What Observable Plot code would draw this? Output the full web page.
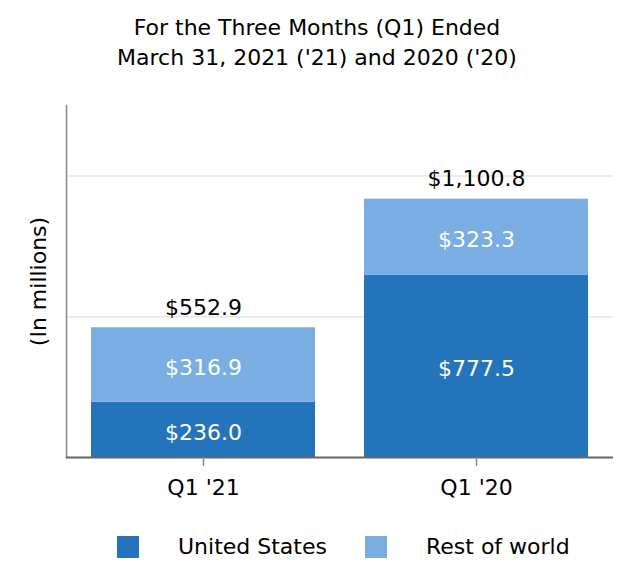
<!DOCTYPE html>
<html><head><meta charset="utf-8">
<script src="https://cdn.jsdelivr.net/npm/d3@7"></script>
<script src="https://cdn.jsdelivr.net/npm/@observablehq/plot@0.6"></script>
<style>
body{margin:0;background:#fff;font-family:"DejaVu Sans",sans-serif;width:634px;}
#title{text-align:center;font-size:22px;line-height:30px;padding-top:13px;height:59px;color:#000;}
#legend{display:flex;align-items:center;padding-left:117px;padding-top:22px;font-size:22px;color:#000;}
#legend .sw{width:22px;height:22px;}
#legend .lb{margin-left:39px;margin-right:38px;}
</style></head><body>
<div id="title">For the Three Months (Q1) Ended<br>March 31, 2021 ('21) and 2020 ('20)</div>
<div id="chart"></div>
<div id="legend"></div>
<script>
const quarters = ["Q1 '21", "Q1 '20"];
const seriesNames = ["United States", "Rest of world"];
const unitedStates = [236.0, 777.5];
const restOfWorld = [316.9, 323.3];
const totals = [552.9, 1100.8];
const colors = ["#2474bb", "#7aade2"];
const gridValues = [600, 1200];
const yMax = 1500;

const rows = [];
quarters.forEach((q, i) => {
  rows.push({quarter: q, series: seriesNames[0], value: unitedStates[i]});
  rows.push({quarter: q, series: seriesNames[1], value: restOfWorld[i]});
});
const totalRows = quarters.map((q, i) => ({quarter: q, value: totals[i]}));
const fmt = v => "$" + d3.format(",.1f")(v);

const chart = Plot.plot({
  width: 634, height: 440,
  marginTop: 33, marginBottom: 55, marginLeft: 66, marginRight: 21,
  style: {fontFamily: "DejaVu Sans", fontSize: "22px", color: "#000", background: "#fff"},
  x: {domain: quarters, paddingInner: 0.18, paddingOuter: 0.09, label: null},
  y: {domain: [0, yMax], label: null},
  color: {domain: seriesNames, range: colors},
  marks: [
    Plot.ruleY(gridValues, {stroke: "#e6e6e6", strokeWidth: 1.5}),
    Plot.barY(rows, Plot.stackY({x: "quarter", y: "value", fill: "series"})),
    Plot.text(rows, Plot.stackY({x: "quarter", y: "value", text: d => fmt(d.value), fill: "white", fontSize: 22, dy: 3})),
    Plot.text(totalRows, {x: "quarter", y: "value", text: d => fmt(d.value), dy: -20, fill: "black", fontSize: 22}),
    Plot.frame({anchor: "left", stroke: "#888", strokeWidth: 1.5}),
    Plot.ruleY([0], {stroke: "#666", strokeWidth: 2}),
    Plot.axisX({tickSize: 9, tickPadding: 13, stroke: "#888", strokeWidth: 1.5, fontSize: 22, label: null}),
    Plot.axisY({ticks: [], label: "(In millions)", labelArrow: "none", labelAnchor: "center", labelOffset: 36, fontSize: 22})
  ]
});
document.getElementById("chart").appendChild(chart);

const legend = document.getElementById("legend");
seriesNames.forEach((s, i) => {
  const sw = document.createElement("div"); sw.className = "sw"; sw.style.background = colors[i];
  const lb = document.createElement("div"); lb.className = "lb"; lb.textContent = s;
  legend.appendChild(sw); legend.appendChild(lb);
});
</script>
</body></html>
